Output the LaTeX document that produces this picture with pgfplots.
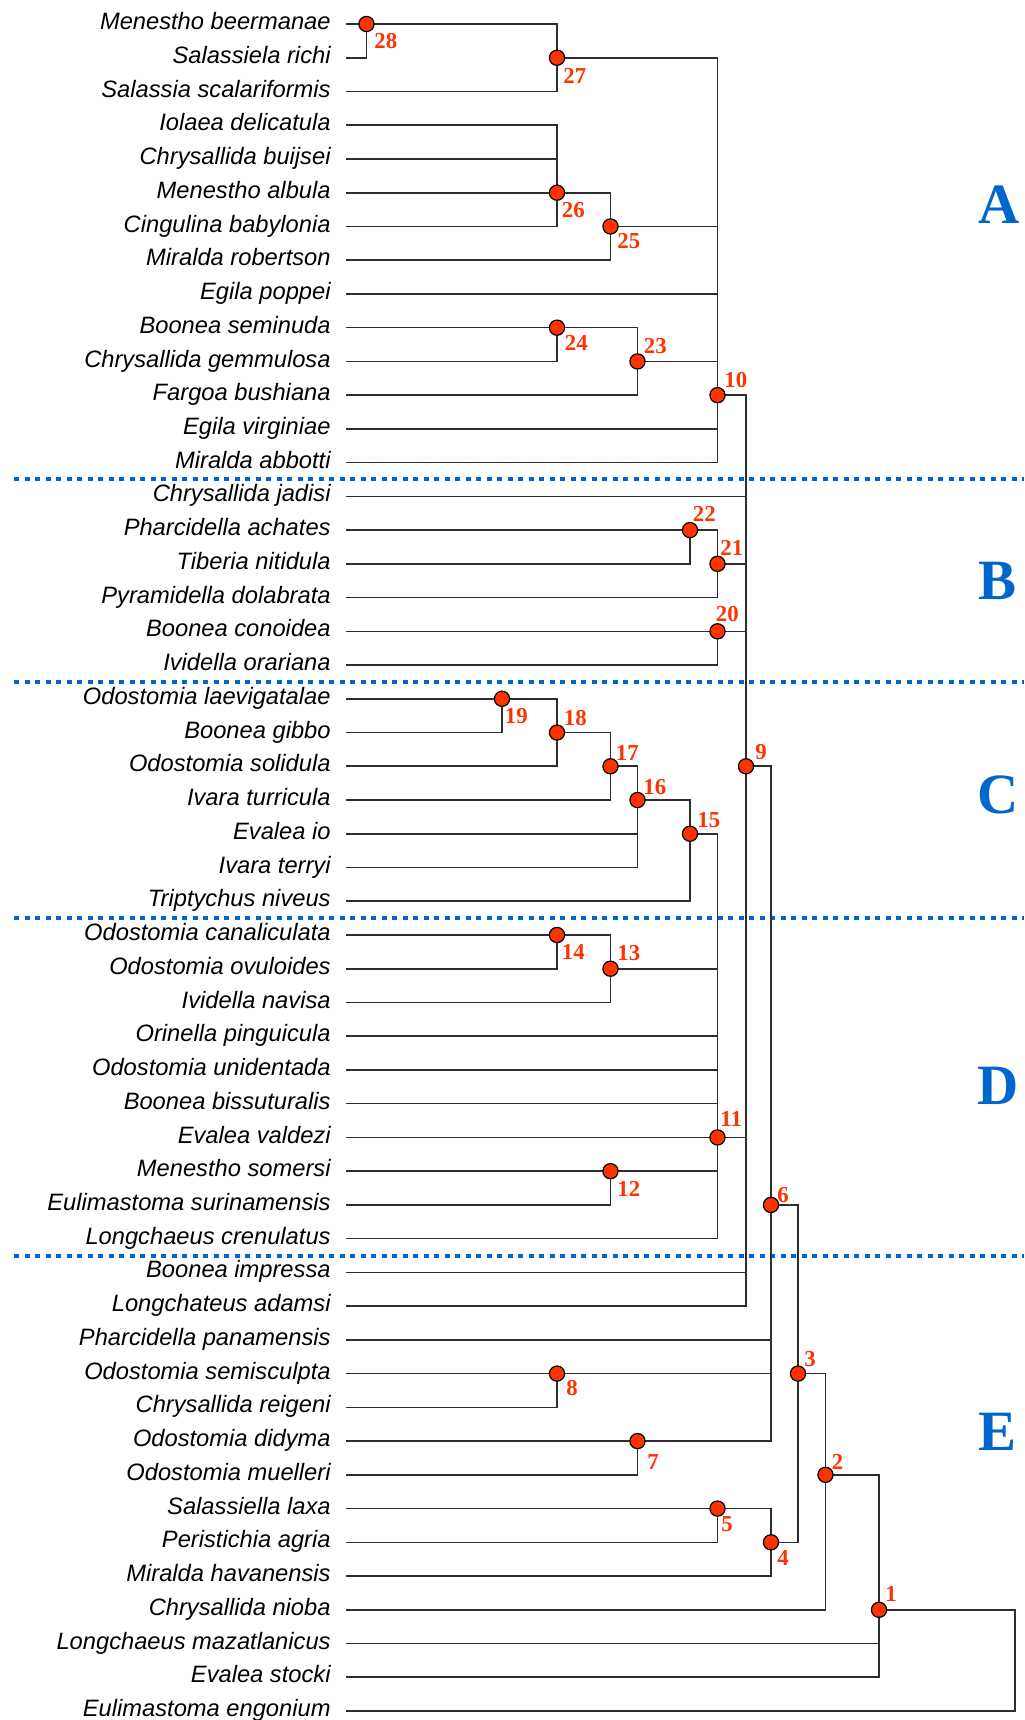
\documentclass[border=0pt]{standalone}
\usepackage{pgfplots}
\pgfplotsset{compat=1.18}
\usepackage{fontspec}
\setmainfont{Liberation Sans}
\newfontfamily\timesfont{Liberation Serif}
\definecolor{treeline}{HTML}{2E2E2E}
\definecolor{nodered}{HTML}{FF3300}
\definecolor{secblue}{HTML}{0066CC}
\tikzset{
  leaf/.style={anchor=base east, yshift=-2.8pt, inner sep=0pt, font=\fontsize{11.85}{14}\selectfont\itshape},
  num/.style={anchor=west, inner sep=0pt, text=nodered, font=\timesfont\bfseries\fontsize{11.4}{13}\selectfont},
  sec/.style={anchor=center, inner sep=0pt, text=secblue, font=\timesfont\bfseries\fontsize{28.5}{30}\selectfont}
}
\begin{document}
\begin{tikzpicture}
\begin{axis}[at={(0,0)}, anchor=south west, scale only axis,
  width=512pt, height=860pt,
  xmin=0, xmax=1024, ymin=-0.711, ymax=50.267, y dir=reverse,
  hide axis, clip=false]
% section separators
\addplot[secblue, line width=2pt, dash pattern=on 2.65pt off 2.6pt, mark=none] coordinates {(14,13.5) (1024,13.5)};
\addplot[secblue, line width=2pt, dash pattern=on 2.65pt off 2.6pt, mark=none] coordinates {(14,19.5) (1024,19.5)};
\addplot[secblue, line width=2pt, dash pattern=on 2.65pt off 2.6pt, mark=none] coordinates {(14,26.5) (1024,26.5)};
\addplot[secblue, line width=2pt, dash pattern=on 2.65pt off 2.6pt, mark=none] coordinates {(14,36.5) (1024,36.5)};
% tree
\addplot[treeline, line width=0.8pt, mark=none, unbounded coords=jump, line join=miter] table {
x y
346 0
366.5 0
366.5 1
346 1
nan nan
366.5 0
557 0
557 2
346 2
nan nan
346 3
557 3
557 6
346 6
nan nan
346 4
557 4
nan nan
346 5
557 5
nan nan
557 5
610.5 5
610.5 7
346 7
nan nan
346 9
557 9
557 10
346 10
nan nan
557 9
637.5 9
637.5 11
346 11
nan nan
557 1
717.5 1
717.5 13
346 13
nan nan
610.5 6
717.5 6
nan nan
346 8
717.5 8
nan nan
637.5 10
717.5 10
nan nan
346 12
717.5 12
nan nan
346 15
690 15
690 16
346 16
nan nan
690 15
717.5 15
717.5 17
346 17
nan nan
346 18
717.5 18
717.5 19
346 19
nan nan
346 20
502 20
502 21
346 21
nan nan
502 20
557 20
557 22
346 22
nan nan
557 21
610.5 21
610.5 23
346 23
nan nan
610.5 22
637.5 22
637.5 25
346 25
nan nan
346 24
637.5 24
nan nan
637.5 23
690 23
690 26
346 26
nan nan
346 27
557 27
557 28
346 28
nan nan
557 27
610.5 27
610.5 29
346 29
nan nan
346 34
610.5 34
610.5 35
346 35
nan nan
690 24
717.5 24
717.5 36
346 36
nan nan
610.5 28
717.5 28
nan nan
346 30
717.5 30
nan nan
346 31
717.5 31
nan nan
346 32
717.5 32
nan nan
346 33
717.5 33
nan nan
610.5 34
717.5 34
nan nan
717.5 11
746 11
746 38
346 38
nan nan
346 14
746 14
nan nan
717.5 16
746 16
nan nan
717.5 18
746 18
nan nan
717.5 33
746 33
nan nan
346 37
746 37
nan nan
346 40
557 40
557 41
346 41
nan nan
346 42
637.5 42
637.5 43
346 43
nan nan
746 22
771 22
771 42
637.5 42
nan nan
346 39
771 39
nan nan
557 40
771 40
nan nan
346 44
717.5 44
717.5 45
346 45
nan nan
717.5 44
771 44
771 46
346 46
nan nan
771 35
798 35
798 45
771 45
nan nan
798 40
825.5 40
825.5 47
346 47
nan nan
825.5 43
879 43
879 49
346 49
nan nan
346 48
879 48
nan nan
879 47
1015 47
1015 50
346 50
};
% node circles
\addplot[only marks, mark=*, mark size=3.8pt, mark options={fill=nodered, draw=black, line width=0.6pt}] table {
x y
366.5 0
557 1
557 5
610.5 6
557 9
637.5 10
717.5 11
690 15
717.5 16
717.5 18
502 20
557 21
610.5 22
637.5 23
690 24
746 22
557 27
610.5 28
717.5 33
610.5 34
771 35
557 40
798 40
637.5 42
825.5 43
717.5 44
771 45
879 47
};
% node numbers
\node[num] at (axis cs:374,0.504) {28};
\node[num] at (axis cs:563,1.541) {27};
\node[num] at (axis cs:561.5,5.513) {26};
\node[num] at (axis cs:617,6.435) {25};
\node[num] at (axis cs:564.5,9.445) {24};
\node[num] at (axis cs:643.5,9.535) {23};
\node[num] at (axis cs:724,10.547) {10};
\node[num] at (axis cs:692.5,14.508) {22};
\node[num] at (axis cs:720,15.517) {21};
\node[num] at (axis cs:715.5,17.496) {20};
\node[num] at (axis cs:504.5,20.504) {19};
\node[num] at (axis cs:563.5,20.555) {18};
\node[num] at (axis cs:615.5,21.606) {17};
\node[num] at (axis cs:643,22.606) {16};
\node[num] at (axis cs:697,23.606) {15};
\node[num] at (axis cs:755,21.585) {9};
\node[num] at (axis cs:561.5,27.513) {14};
\node[num] at (axis cs:617,27.547) {13};
\node[num] at (axis cs:720,32.457) {11};
\node[num] at (axis cs:617,34.513) {12};
\node[num] at (axis cs:777,34.694) {6};
\node[num] at (axis cs:566,40.415) {8};
\node[num] at (axis cs:804,39.576) {3};
\node[num] at (axis cs:647,42.613) {7};
\node[num] at (axis cs:831.5,42.624) {2};
\node[num] at (axis cs:721,44.474) {5};
\node[num] at (axis cs:777,45.465) {4};
\node[num] at (axis cs:885,46.526) {1};
% section letters
\node[sec] at (axis cs:999.5,5.364) {A};
\node[sec] at (axis cs:998,16.51) {B};
\node[sec] at (axis cs:998,22.85) {C};
\node[sec] at (axis cs:998,31.48) {D};
\node[sec] at (axis cs:998,41.73) {E};
% leaf names
\node[leaf] at (axis cs:331,0) {Menestho beermanae};
\node[leaf] at (axis cs:331,1) {Salassiela richi};
\node[leaf] at (axis cs:331,2) {Salassia scalariformis};
\node[leaf] at (axis cs:331,3) {Iolaea delicatula};
\node[leaf] at (axis cs:331,4) {Chrysallida buijsei};
\node[leaf] at (axis cs:331,5) {Menestho albula};
\node[leaf] at (axis cs:331,6) {Cingulina babylonia};
\node[leaf] at (axis cs:331,7) {Miralda robertson};
\node[leaf] at (axis cs:331,8) {Egila poppei};
\node[leaf] at (axis cs:331,9) {Boonea seminuda};
\node[leaf] at (axis cs:331,10) {Chrysallida gemmulosa};
\node[leaf] at (axis cs:331,11) {Fargoa bushiana};
\node[leaf] at (axis cs:331,12) {Egila virginiae};
\node[leaf] at (axis cs:331,13) {Miralda abbotti};
\node[leaf] at (axis cs:331,14) {Chrysallida jadisi};
\node[leaf] at (axis cs:331,15) {Pharcidella achates};
\node[leaf] at (axis cs:331,16) {Tiberia nitidula};
\node[leaf] at (axis cs:331,17) {Pyramidella dolabrata};
\node[leaf] at (axis cs:331,18) {Boonea conoidea};
\node[leaf] at (axis cs:331,19) {Ividella orariana};
\node[leaf] at (axis cs:331,20) {Odostomia laevigatalae};
\node[leaf] at (axis cs:331,21) {Boonea gibbo};
\node[leaf] at (axis cs:331,22) {Odostomia solidula};
\node[leaf] at (axis cs:331,23) {Ivara turricula};
\node[leaf] at (axis cs:331,24) {Evalea io};
\node[leaf] at (axis cs:331,25) {Ivara terryi};
\node[leaf] at (axis cs:331,26) {Triptychus niveus};
\node[leaf] at (axis cs:331,27) {Odostomia canaliculata};
\node[leaf] at (axis cs:331,28) {Odostomia ovuloides};
\node[leaf] at (axis cs:331,29) {Ividella navisa};
\node[leaf] at (axis cs:331,30) {Orinella pinguicula};
\node[leaf] at (axis cs:331,31) {Odostomia unidentada};
\node[leaf] at (axis cs:331,32) {Boonea bissuturalis};
\node[leaf] at (axis cs:331,33) {Evalea valdezi};
\node[leaf] at (axis cs:331,34) {Menestho somersi};
\node[leaf] at (axis cs:331,35) {Eulimastoma surinamensis};
\node[leaf] at (axis cs:331,36) {Longchaeus crenulatus};
\node[leaf] at (axis cs:331,37) {Boonea impressa};
\node[leaf] at (axis cs:331,38) {Longchateus adamsi};
\node[leaf] at (axis cs:331,39) {Pharcidella panamensis};
\node[leaf] at (axis cs:331,40) {Odostomia semisculpta};
\node[leaf] at (axis cs:331,41) {Chrysallida reigeni};
\node[leaf] at (axis cs:331,42) {Odostomia didyma};
\node[leaf] at (axis cs:331,43) {Odostomia muelleri};
\node[leaf] at (axis cs:331,44) {Salassiella laxa};
\node[leaf] at (axis cs:331,45) {Peristichia agria};
\node[leaf] at (axis cs:331,46) {Miralda havanensis};
\node[leaf] at (axis cs:331,47) {Chrysallida nioba};
\node[leaf] at (axis cs:331,48) {Longchaeus mazatlanicus};
\node[leaf] at (axis cs:331,49) {Evalea stocki};
\node[leaf] at (axis cs:331,50) {Eulimastoma engonium};
\end{axis}
\pgfresetboundingbox
\useasboundingbox (0,0) rectangle (512pt,860pt);
\end{tikzpicture}
\end{document}
